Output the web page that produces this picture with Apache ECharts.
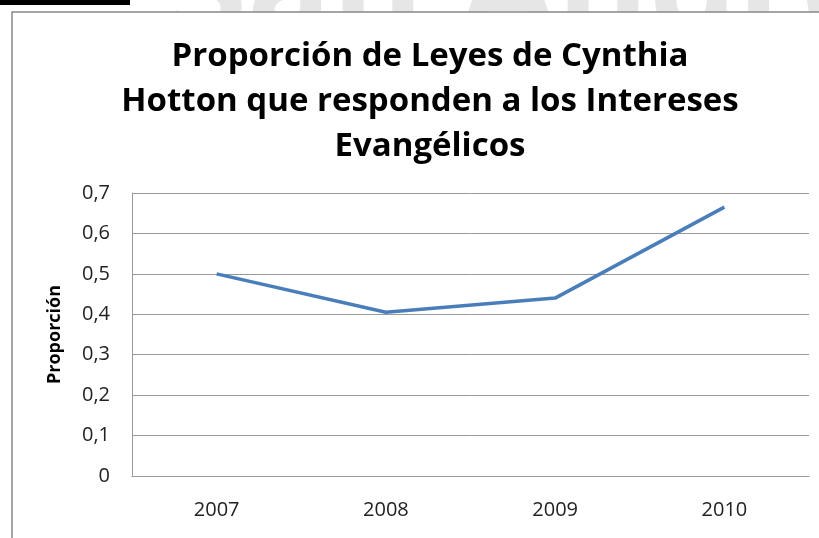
<!DOCTYPE html>
<html>
<head>
<meta charset="utf-8">
<script src="https://cdn.jsdelivr.net/npm/echarts@6/dist/echarts.min.js"></script>
<style>
    html, body { margin: 0; padding: 0; background: #fff; }
    #chart { width: 819px; height: 538px; }
</style>
</head>
<body>
<div id="chart"></div>
<script>
var years = ['2007', '2008', '2009', '2010'];
var proporcion = [0.5, 0.405, 0.44, 0.665];
var yTicks = [0, 0.1, 0.2, 0.3, 0.4, 0.5, 0.6, 0.7];

var chart = echarts.init(document.getElementById('chart'));
var option = {
    backgroundColor: '#fff',
    animation: false,
    graphic: [{
        // marca de agua detras del marco
        type: 'text',
        left: 170,
        top: -75,
        z: -10,
        style: {
            text: 'San Andrés',
            font: 'bold 140px "Open Sans"',
            fill: '#e6e6e6'
        }
    }, {
        type: 'rect',
        z: -5,
        shape: { x: 12, y: 12, width: 900, height: 600 },
        style: { fill: '#fff', stroke: '#888', lineWidth: 1.5 }
    }, {
        type: 'rect',
        shape: { x: 0, y: 0, width: 130, height: 5 },
        style: { fill: '#000' }
    }],
    title: {
        text: 'Proporción de Leyes de Cynthia\nHotton que responden a los Intereses\nEvangélicos',
        left: 425,
        textAlign: 'center',
        top: 29,
        textStyle: {
            fontFamily: 'Open Sans',
            fontWeight: 'bold',
            fontSize: 33,
            lineHeight: 45,
            color: '#000'
        }
    },
    grid: {
        left: 132,
        right: 10,
        top: 193,
        bottom: 62
    },
    xAxis: {
        type: 'category',
        data: years,
        boundaryGap: true,
        axisLine: { show: true, lineStyle: { color: '#999', width: 1 } },
        axisTick: { show: false },
        axisLabel: {
            margin: 24,
            color: '#222',
            fontSize: 20,
            fontFamily: 'Open Sans'
        }
    },
    yAxis: {
        type: 'value',
        min: 0,
        max: 0.7,
        interval: 0.1,
        name: 'Proporción',
        nameLocation: 'middle',
        nameGap: 68,
        nameTextStyle: {
            fontSize: 18,
            fontWeight: 'bold',
            fontFamily: 'Open Sans',
            color: '#000'
        },
        axisLine: { show: true, lineStyle: { color: '#999', width: 1 } },
        axisTick: { show: false },
        axisLabel: {
            margin: 22,
            color: '#222',
            fontSize: 20,
            fontFamily: 'Open Sans',
            formatter: function (v) {
                var t = yTicks.filter(function (x) { return Math.abs(x - v) < 1e-6; })[0];
                return t === 0 ? '0' : String(t).replace('.', ',');
            }
        },
        splitLine: { show: true, lineStyle: { color: '#999', width: 1 } }
    },
    series: [{
        name: 'Proporción',
        type: 'line',
        data: proporcion,
        symbol: 'none',
        lineStyle: { color: '#4a7ebb', width: 3.5 }
    }]
};
chart.setOption(option);
</script>
</body>
</html>
